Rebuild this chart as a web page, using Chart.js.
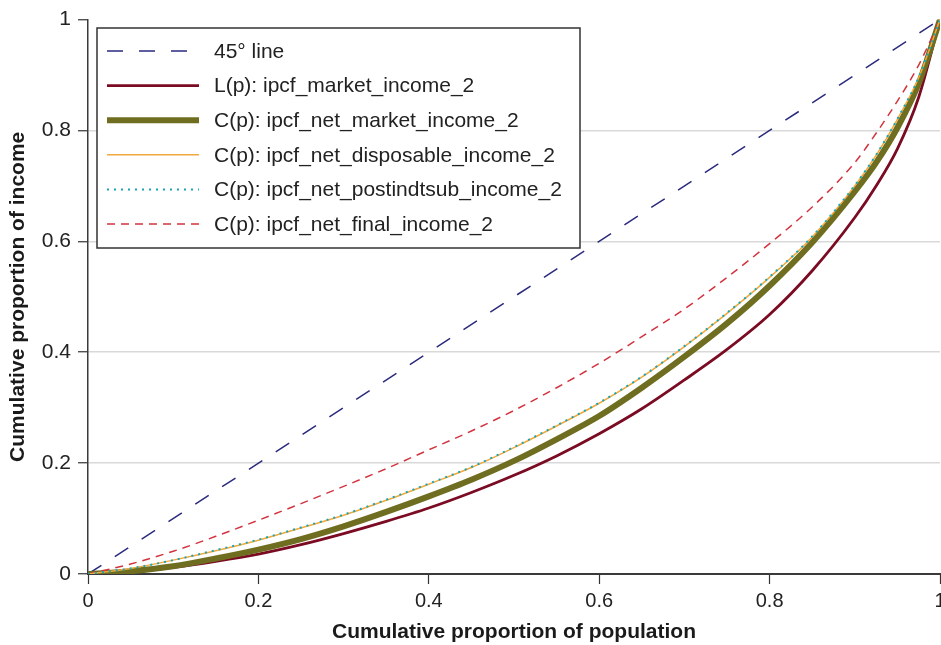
<!DOCTYPE html>
<html>
<head>
<meta charset="utf-8">
<title>Concentration curves</title>
<script src="https://cdn.jsdelivr.net/npm/chart.js@4.4.1/dist/chart.umd.min.js"></script>
<style>
  html, body { margin: 0; padding: 0; background: #fff; }
  #wrap { width: 941px; height: 645px; }
</style>
</head>
<body>
<div id="wrap"><canvas id="curve-chart" width="941" height="645"></canvas></div>
<script>
// cumulative share of population (x axis)
const popShare = [0, 0.05, 0.1, 0.15, 0.2, 0.25, 0.3, 0.35, 0.4, 0.45, 0.5, 0.55, 0.6, 0.65, 0.7, 0.75, 0.8, 0.85, 0.9, 0.925, 0.95, 0.975, 1];

// 45 degree line
const diagX = [0, 1];
const diagY = [0, 1];

// cumulative share of income
const marketIncome      = [0, 0.004, 0.012, 0.023, 0.036, 0.053, 0.073, 0.095, 0.119, 0.147, 0.178, 0.213, 0.253, 0.298, 0.35, 0.405, 0.468, 0.547, 0.643, 0.70, 0.767, 0.86, 1];
const netMarketIncome   = [0, 0.005, 0.014, 0.028, 0.044, 0.063, 0.086, 0.112, 0.14, 0.170, 0.204, 0.243, 0.285, 0.336, 0.392, 0.452, 0.52, 0.598, 0.69, 0.742, 0.805, 0.885, 1];
const netDisposable     = [0, 0.010, 0.025, 0.042, 0.061, 0.083, 0.106, 0.133, 0.162, 0.192, 0.228, 0.267, 0.308, 0.355, 0.41, 0.47, 0.535, 0.608, 0.70, 0.755, 0.82, 0.895, 1];
const netPostindtsub    = [0, 0.010, 0.025, 0.043, 0.062, 0.084, 0.107, 0.134, 0.163, 0.193, 0.229, 0.268, 0.309, 0.356, 0.411, 0.471, 0.536, 0.609, 0.701, 0.756, 0.821, 0.896, 1];
const netFinalIncome    = [0, 0.018, 0.041, 0.068, 0.097, 0.127, 0.158, 0.19, 0.224, 0.258, 0.295, 0.336, 0.38, 0.428, 0.478, 0.535, 0.596, 0.662, 0.742, 0.795, 0.853, 0.918, 1];

const tickValues = [0, 0.2, 0.4, 0.6, 0.8, 1];
const tickText   = ['0', '0.2', '0.4', '0.6', '0.8', '1'];

function toPoints(xs, ys) {
    return xs.map((x, i) => ({ x: x, y: ys[i] }));
}

function tickLabel(v) {
    const i = tickValues.findIndex(t => Math.abs(t - v) < 1e-6);
    return i >= 0 ? tickText[i] : '';
}

Chart.defaults.font.family = '"Liberation Sans", Arial, Helvetica, sans-serif';
Chart.defaults.color = '#222';

// legend box drawn inside the plot, like the original figure
const insideLegend = {
    id: 'insideLegend',
    afterDatasetsDraw(chart) {
        const ctx = chart.ctx;
        const boxX = 97, boxY = 28, boxW = 483, boxH = 220;
        ctx.save();
        ctx.fillStyle = '#fff';
        ctx.fillRect(boxX, boxY, boxW, boxH);
        ctx.strokeStyle = '#333';
        ctx.lineWidth = 1.5;
        ctx.strokeRect(boxX, boxY, boxW, boxH);

        ctx.font = '21px "Liberation Sans", Arial, sans-serif';
        ctx.textBaseline = 'middle';
        chart.data.datasets.forEach((ds, i) => {
            const y = boxY + 23 + i * 34.6;
            ctx.beginPath();
            ctx.setLineDash(ds.borderDash || []);
            ctx.lineDashOffset = 0;
            ctx.strokeStyle = ds.borderColor;
            ctx.lineWidth = ds.borderWidth;
            ctx.moveTo(107, y);
            ctx.lineTo(199, y);
            ctx.stroke();
            ctx.setLineDash([]);
            ctx.fillStyle = '#222';
            ctx.fillText(ds.label, 214, y + 1);
        });
        ctx.restore();
    }
};

const ctx = document.getElementById('curve-chart').getContext('2d');

const chart = new Chart(ctx, {
    type: 'line',
    data: {
        datasets: [
            {
                label: '45\u00B0 line',
                data: toPoints(diagX, diagY),
                borderColor: '#2b2b7e',
                borderWidth: 1.5,
                borderDash: [16, 16],
                order: 5
            },
            {
                label: 'L(p): ipcf_market_income_2',
                data: toPoints(popShare, marketIncome),
                borderColor: '#7b0b22',
                borderWidth: 2.8,
                order: 4
            },
            {
                label: 'C(p): ipcf_net_market_income_2',
                data: toPoints(popShare, netMarketIncome),
                borderColor: '#6f6e20',
                borderWidth: 6,
                order: 3
            },
            {
                label: 'C(p): ipcf_net_disposable_income_2',
                data: toPoints(popShare, netDisposable),
                borderColor: '#f2aa3c',
                borderWidth: 1.5,
                order: 1
            },
            {
                label: 'C(p): ipcf_net_postindtsub_income_2',
                data: toPoints(popShare, netPostindtsub),
                borderColor: '#1ba5b4',
                borderWidth: 2,
                borderDash: [2, 5],
                order: 0
            },
            {
                label: 'C(p): ipcf_net_final_income_2',
                data: toPoints(popShare, netFinalIncome),
                borderColor: '#d2343f',
                borderWidth: 1.5,
                borderDash: [8, 6],
                order: 2
            }
        ]
    },
    options: {
        responsive: false,
        animation: false,
        layout: {
            autoPadding: false,
            padding: { top: 19, right: 1, left: 0, bottom: 0 }
        },
        elements: {
            point: { radius: 0, hoverRadius: 0 },
            line: { fill: false, cubicInterpolationMode: 'monotone' }
        },
        plugins: {
            legend: { display: false },
            tooltip: { enabled: false }
        },
        scales: {
            x: {
                type: 'linear',
                min: 0,
                max: 1,
                ticks: {
                    stepSize: 0.2,
                    maxRotation: 0,
                    autoSkip: false,
                    padding: 5,
                    font: { size: 20 },
                    color: '#222',
                    callback: v => tickLabel(v)
                },
                grid: {
                    drawOnChartArea: false,
                    tickLength: 10,
                    tickColor: '#333',
                    tickWidth: 1.2
                },
                border: { color: '#3a3a3a', width: 2 },
                title: {
                    display: true,
                    text: 'Cumulative proportion of population',
                    font: { size: 21, weight: 'bold' },
                    color: '#1a1a1a',
                    padding: { top: 0, bottom: 0 }
                },
                afterFit: s => {
                    s.height = 71;
                    // let the last tick label hang off the edge, as in the original
                    s.paddingLeft = 0;
                    s.paddingRight = 0;
                }
            },
            y: {
                type: 'linear',
                min: 0,
                max: 1,
                ticks: {
                    stepSize: 0.2,
                    padding: 7,
                    font: { size: 21 },
                    color: '#222',
                    callback: v => tickLabel(v)
                },
                grid: {
                    color: c => (c.tick && c.tick.value > 0.01 && c.tick.value < 0.99) ? '#d9d9d9' : 'rgba(0,0,0,0)',
                    lineWidth: 1.5,
                    tickLength: 10,
                    tickColor: '#333',
                    tickWidth: 1.2
                },
                border: { color: '#3a3a3a', width: 1.5 },
                title: {
                    display: true,
                    text: 'Cumulative proportion of income',
                    font: { size: 21, weight: 'bold' },
                    color: '#1a1a1a',
                    padding: { top: 6, bottom: 0 }
                },
                afterFit: s => { s.width = 88; }
            }
        }
    },
    plugins: [insideLegend]
});
</script>
</body>
</html>
